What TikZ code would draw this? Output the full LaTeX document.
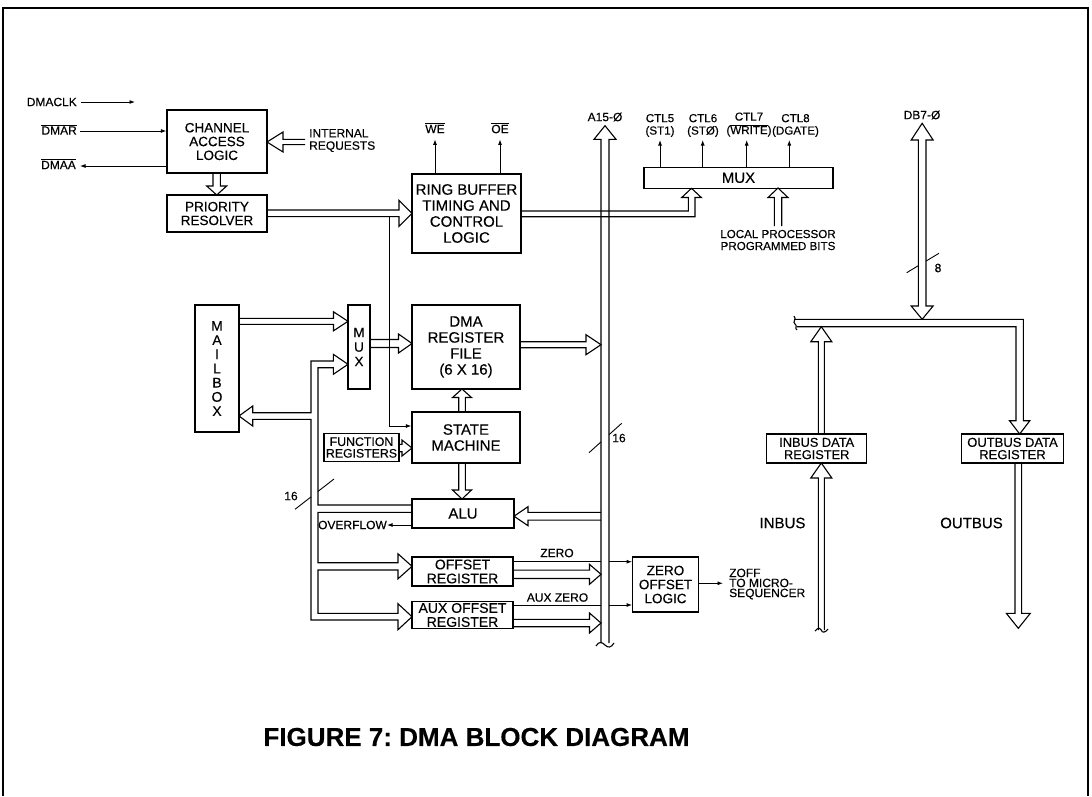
\documentclass[tikz,border=0pt]{standalone}
\usepackage{fontspec}
\setmainfont{Liberation Sans}[FakeBold=0.3]
\usetikzlibrary{arrows.meta}
% hollow bus arrows: tail, tip, cross-position, shaft half width, head half width, head length
\newcommand\busR[6]{\draw[bus] (#1,#3-#4) -- (#2-#6,#3-#4) -- (#2-#6,#3-#5) -- (#2,#3) -- (#2-#6,#3+#5) -- (#2-#6,#3+#4) -- (#1,#3+#4);}
\newcommand\busL[6]{\draw[bus] (#1,#3-#4) -- (#2+#6,#3-#4) -- (#2+#6,#3-#5) -- (#2,#3) -- (#2+#6,#3+#5) -- (#2+#6,#3+#4) -- (#1,#3+#4);}
\newcommand\busD[6]{\draw[bus] (#3-#4,#1) -- (#3-#4,#2-#6) -- (#3-#5,#2-#6) -- (#3,#2) -- (#3+#5,#2-#6) -- (#3+#4,#2-#6) -- (#3+#4,#1);}
\newcommand\busU[6]{\draw[bus] (#3-#4,#1) -- (#3-#4,#2+#6) -- (#3-#5,#2+#6) -- (#3,#2) -- (#3+#5,#2+#6) -- (#3+#4,#2+#6) -- (#3+#4,#1);}
\frenchspacing
\begin{document}
\begin{tikzpicture}[x=1pt,y=-1pt,
  box/.style={draw,line width=1.3pt,inner sep=0pt,align=center},
  lbl/.style={inner sep=0pt,align=center,font=\fontsize{12}{12.4}\selectfont},
  sig/.style={line width=0.9pt,-{Latex[length=5.5pt,width=4pt]}},
  bus/.style={line width=1.1pt,line join=miter},
  fxv/.style={font=\fontsize{15}{16}\selectfont},
  fxiv/.style={font=\fontsize{14}{14}\selectfont},
  fxiii/.style={font=\fontsize{13.5}{13.8}\selectfont},
  fxii/.style={font=\fontsize{12.3}{11.6}\selectfont}]
\useasboundingbox (0,0) rectangle (1092,796);
% frame
\draw[line width=1.4pt] (3,796) -- (3,8) -- (1088,8) -- (1088,796);

% ---------- boxes ----------
\node[box,fxiii,minimum width=100pt,minimum height=63pt] (cal) at (217,141.5) {CHANNEL\\ACCESS\\LOGIC};
\node[box,fxiii,minimum width=100pt,minimum height=37pt] (pr) at (217,213.5) {PRIORITY\\RESOLVER};
\node[box,fxv,minimum width=109pt,minimum height=79pt] (rb) at (466.5,213.5) {RING BUFFER\\TIMING AND\\CONTROL\\LOGIC};
\node[box,fxv,minimum width=189pt,minimum height=21pt] (muxa) at (738.5,177.75) {MUX};
\node[box,font=\fontsize{14}{14.2}\selectfont,minimum width=44pt,minimum height=127pt] (mbox) at (217,368.5) {M\\A\\I\\L\\B\\O\\X};
\node[box,font=\fontsize{13.5}{14.5}\selectfont,minimum width=22pt,minimum height=84pt] (muxb) at (359,347) {M\\U\\X};
\node[box,fxv,minimum width=108pt,minimum height=84pt] (drf) at (466,347) {DMA\\REGISTER\\FILE\\(6 X 16)};
\node[box,fxv,minimum width=108pt,minimum height=51pt] (sm) at (466,437.5) {STATE\\MACHINE};
\node[box,fxii,minimum width=75pt,minimum height=28.5pt] (fr) at (361.5,447.5) {FUNCTION\\REGISTERS};
\node[box,fxv,minimum width=102pt,minimum height=29pt] (alu) at (463,513.5) {ALU};
\node[box,fxiv,minimum width=101pt,minimum height=29pt] (off) at (462.5,571.5) {OFFSET\\REGISTER};
\node[box,fxiv,minimum width=101pt,minimum height=26.5pt] (aux) at (462.5,615) {AUX OFFSET\\REGISTER};
\node[box,font=\fontsize{13.5}{14}\selectfont,minimum width=65.5pt,minimum height=55pt] (zol) at (665.5,584.5) {ZERO\\OFFSET\\LOGIC};
\node[box,font=\fontsize{12.8}{12.3}\selectfont,minimum width=100pt,minimum height=29pt] (inreg) at (816.7,448.5) {INBUS DATA\\REGISTER};
\node[box,font=\fontsize{13}{12.3}\selectfont,minimum width=101.5pt,minimum height=29pt] (outreg) at (1012.5,448.5) {OUTBUS DATA\\REGISTER};

% ---------- labels ----------
\node[lbl,anchor=east] (dmaclk) at (77,102) {DMACLK};
\node[lbl,anchor=east] (dmar) at (77,129.5) {\(\overline{\mbox{DMAR}}\)};
\node[lbl,anchor=east] (dmaa) at (76,164) {\(\overline{\mbox{DMAA}}\)};
\node[lbl,anchor=west,align=left] (intreq) at (309,140.5) {INTERNAL\\REQUESTS};
\node[lbl] (we) at (435,128) {\(\overline{\mbox{WE}}\)};
\node[lbl] (oe) at (500,128) {\(\overline{\mbox{OE}}\)};
\node[lbl] (abus) at (605,117) {A15-Ø};
\node[lbl,font=\fontsize{11.6}{12.4}\selectfont] (ctlv) at (660,125.5) {CTL5\\(ST1)};
\node[lbl,font=\fontsize{11.6}{12.4}\selectfont] (ctlvi) at (703,125.5) {CTL6\\(STØ)};
\node[lbl,font=\fontsize{11.6}{13.5}\selectfont] (ctlvii) at (749,124.5) {CTL7\\(\(\overline{\mbox{WRITE}}\))};
\node[lbl,font=\fontsize{11.6}{12.4}\selectfont] (ctlviii) at (795.5,125.5) {CTL8\\(DGATE)};
\node[lbl,font=\fontsize{11.6}{12}\selectfont] (lpp) at (778,240) {LOCAL PROCESSOR\\PROGRAMMED BITS};
\node[lbl] (dbbus) at (922,115) {DB7-Ø};
\node[lbl] (eight) at (938,268) {8};
\node[lbl] (sixa) at (291,496) {16};
\node[lbl] (sixb) at (619,438) {16};
\node[lbl,anchor=east] (ovf) at (387,525) {OVERFLOW};
\node[lbl] (zero) at (557,553) {ZERO};
\node[lbl] (auxzero) at (557.5,597.5) {AUX ZERO};
\node[lbl,anchor=west,align=left,font=\fontsize{12}{10}\selectfont] (zoff) at (729,584) {ZOFF\\TO MICRO-\\SEQUENCER};
\node[lbl,font=\fontsize{15}{16}\selectfont] (inbus) at (782.5,523) {INBUS};
\node[lbl,font=\fontsize{15}{16}\selectfont] (outbus) at (971.5,523) {OUTBUS};
\node[font=\fontsize{26}{27}\selectfont\bfseries] (title) at (476.5,737) {FIGURE 7: DMA BLOCK DIAGRAM};

% ---------- single-line signals ----------
\coordinate (clkend) at (135,102);
\draw[sig] ([xshift=4pt]dmaclk.east) -- (clkend);
\draw[sig] (80,131) -- (cal.west |- 0,131);
\draw[sig] (cal.west |- 0,166) -- (80,166);
\draw[sig] (rb.north -| we) -- ([yshift=-6pt]we.south);
\draw[sig] (rb.north -| oe) -- ([yshift=-6pt]oe.south);
\foreach \cx in {660,702.7,746.7,789.3} \draw[sig] (\cx,167.3) -- (\cx,140);
\draw[sig] (389,216.7) |- (sm.west |- 0,426);
\draw[sig] (alu.west |- 0,525) -- (ovf.east);
\draw[line width=0.9pt] (off.east |- 0,561.7) -- (601,561.7);
\draw[sig] (609,561.7) -- (zol.west |- 0,561.7);
\draw[line width=0.9pt] (aux.east |- 0,605) -- (601,605);
\draw[sig] (609,605) -- (zol.west |- 0,605);
\draw[sig] (zol.east |- 0,583.3) -- (723,583.3);

% ---------- hollow buses ----------
\busL{305}{267}{142}{2.6}{10}{16}
\busD{173}{195}{216.7}{3.7}{10}{9}
\busR{267}{412}{213.3}{3.3}{13}{13}
\busU{226}{188}{778}{3.7}{10}{9.5}
\busR{239}{348}{321.3}{3}{9.5}{14.5}
\busR{370}{412}{343.5}{4}{9.5}{13.5}
\busU{412}{389}{462}{3.3}{9.5}{8.5}
\busD{463}{499}{462}{3.3}{9.5}{9}
\busR{399}{412}{448}{3.7}{8}{10}
\busL{601}{514}{516.2}{3.85}{9.5}{14}
\busR{513}{601}{574.3}{4.2}{10}{11.5}
\busR{513}{601}{623}{3.7}{10}{11.5}
\busR{520}{601}{344.7}{3}{10}{15}
\busU{434}{326.7}{821.3}{3}{10.5}{15}
\busU{630}{463}{821.3}{3}{10.5}{15}
\busD{463}{628.3}{1018.3}{3.3}{12}{15}

% ring buffer -> mux
\draw[bus] (521,211) -- (688.3,211) -- (688.3,197.5) -- (681.7,197.5) -- (691.5,188.3) -- (701.3,197.5) -- (695,197.5) -- (695,216.7) -- (521,216.7);
% A15-0 bus
\draw[bus] (601,643) -- (601,139.3) -- (594,139.3) -- (605,125.7) -- (616,139.3) -- (609,139.3) -- (609,643);
\draw[bus] (596,646) .. controls (599,641) and (602,642) .. (605,645) .. controls (608,648) and (611,648) .. (614,643);
% DB7-0 bus
\draw[bus] (918.3,306) -- (918.3,140) -- (911.2,140) -- (922.15,123.3) -- (933.1,140) -- (926,140) -- (926,306) -- (933.1,306) -- (922.15,319.3) -- (911.2,306) -- cycle;
% internal data bus
\draw[bus] (796.7,326.7) -- (1016,326.7) -- (1016,420.7) -- (1009.5,420.7) -- (1019.7,434) -- (1029.8,420.7) -- (1023.3,420.7) -- (1023.3,319.3) -- (794,319.3);
\draw[bus] (794,316) .. controls (797,319) and (792,322) .. (795,324) .. controls (798,326) and (794,328) .. (797,330);
% INBUS bottom break
\draw[bus] (815,631) .. controls (818,627) and (821,628) .. (821.3,630) .. controls (822,633) and (825,633) .. (828,629);
% left internal bus (mailbox, mux, alu, offset registers)
\draw[bus] (412,505) -- (318,505) -- (318,367.7) -- (333.3,367.7) -- (333.3,374.3) -- (348,364.3) -- (333.3,354.3) -- (333.3,361) -- (311,361) -- (311,412.7) -- (252.7,412.7) -- (252.7,406) -- (239,416) -- (252.7,426) -- (252.7,419.3) -- (311,419.3) -- (311,620) -- (398,620) -- (398,629.7) -- (412,616.7) -- (398,603.7) -- (398,613.3) -- (318,613.3) -- (318,570) -- (398,570) -- (398,578.8) -- (412,566.3) -- (398,553.8) -- (398,562.7) -- (318,562.7) -- (318,512.3) -- (412,512.3);

% width slashes
\draw[line width=0.9pt] (295,509.3) -- (311,496.9) (318,491.4) -- (334,479);
\draw[line width=0.9pt] (589,452.7) -- (601,441.9) (609,434.7) -- (621.7,423.3);
\draw[line width=0.9pt] (906.7,272.7) -- (918.3,265.7) (926,261.1) -- (939,253.3);
\end{tikzpicture}
\end{document}
